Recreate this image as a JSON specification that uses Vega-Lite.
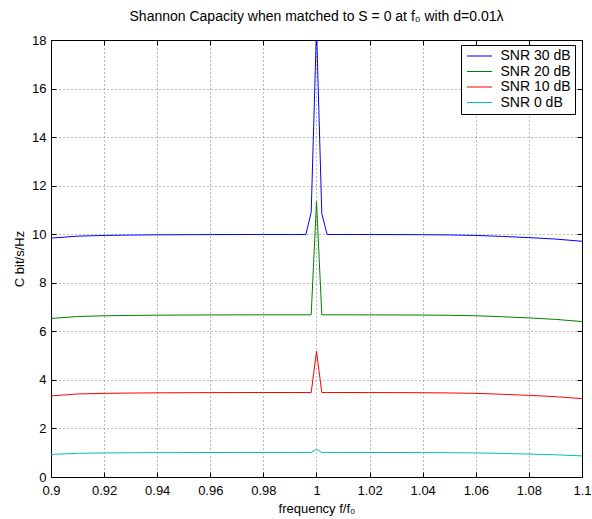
{
  "$schema": "https://vega.github.io/schema/vega-lite/v6.json",
  "width": 531,
  "height": 437,
  "autosize": "none",
  "padding": {"left": 51, "top": 40, "right": 10, "bottom": 42},
  "background": "white",
  "title": {
    "text": "Shannon Capacity when matched to  S = 0 at f₀ with d=0.01λ",
    "font": "Liberation Sans",
    "fontSize": 14,
    "fontWeight": "normal",
    "color": "black",
    "anchor": "middle",
    "baseline": "alphabetic",
    "offset": -1
  },
  "data": {
    "values": [
      {"f": 0.90, "C": 9.84, "s": "SNR 30 dB"},
      {"f": 0.91, "C": 9.92, "s": "SNR 30 dB"},
      {"f": 0.92, "C": 9.95, "s": "SNR 30 dB"},
      {"f": 0.93, "C": 9.965, "s": "SNR 30 dB"},
      {"f": 0.94, "C": 9.975, "s": "SNR 30 dB"},
      {"f": 0.95, "C": 9.98, "s": "SNR 30 dB"},
      {"f": 0.96, "C": 9.985, "s": "SNR 30 dB"},
      {"f": 0.97, "C": 9.987, "s": "SNR 30 dB"},
      {"f": 0.98, "C": 9.99, "s": "SNR 30 dB"},
      {"f": 0.99, "C": 9.99, "s": "SNR 30 dB"},
      {"f": 0.996, "C": 9.99, "s": "SNR 30 dB"},
      {"f": 0.998, "C": 10.9, "s": "SNR 30 dB"},
      {"f": 1.0, "C": 18.5, "s": "SNR 30 dB"},
      {"f": 1.002, "C": 10.85, "s": "SNR 30 dB"},
      {"f": 1.004, "C": 9.99, "s": "SNR 30 dB"},
      {"f": 1.01, "C": 9.99, "s": "SNR 30 dB"},
      {"f": 1.02, "C": 9.987, "s": "SNR 30 dB"},
      {"f": 1.03, "C": 9.985, "s": "SNR 30 dB"},
      {"f": 1.04, "C": 9.98, "s": "SNR 30 dB"},
      {"f": 1.05, "C": 9.97, "s": "SNR 30 dB"},
      {"f": 1.06, "C": 9.95, "s": "SNR 30 dB"},
      {"f": 1.07, "C": 9.91, "s": "SNR 30 dB"},
      {"f": 1.08, "C": 9.86, "s": "SNR 30 dB"},
      {"f": 1.09, "C": 9.80, "s": "SNR 30 dB"},
      {"f": 1.10, "C": 9.71, "s": "SNR 30 dB"},

      {"f": 0.90, "C": 6.53, "s": "SNR 20 dB"},
      {"f": 0.91, "C": 6.61, "s": "SNR 20 dB"},
      {"f": 0.92, "C": 6.64, "s": "SNR 20 dB"},
      {"f": 0.93, "C": 6.656, "s": "SNR 20 dB"},
      {"f": 0.94, "C": 6.666, "s": "SNR 20 dB"},
      {"f": 0.95, "C": 6.671, "s": "SNR 20 dB"},
      {"f": 0.96, "C": 6.676, "s": "SNR 20 dB"},
      {"f": 0.97, "C": 6.678, "s": "SNR 20 dB"},
      {"f": 0.98, "C": 6.681, "s": "SNR 20 dB"},
      {"f": 0.99, "C": 6.681, "s": "SNR 20 dB"},
      {"f": 0.996, "C": 6.681, "s": "SNR 20 dB"},
      {"f": 0.998, "C": 6.681, "s": "SNR 20 dB"},
      {"f": 1.0, "C": 11.35, "s": "SNR 20 dB"},
      {"f": 1.002, "C": 6.681, "s": "SNR 20 dB"},
      {"f": 1.004, "C": 6.681, "s": "SNR 20 dB"},
      {"f": 1.01, "C": 6.681, "s": "SNR 20 dB"},
      {"f": 1.02, "C": 6.678, "s": "SNR 20 dB"},
      {"f": 1.03, "C": 6.676, "s": "SNR 20 dB"},
      {"f": 1.04, "C": 6.671, "s": "SNR 20 dB"},
      {"f": 1.05, "C": 6.661, "s": "SNR 20 dB"},
      {"f": 1.06, "C": 6.642, "s": "SNR 20 dB"},
      {"f": 1.07, "C": 6.601, "s": "SNR 20 dB"},
      {"f": 1.08, "C": 6.552, "s": "SNR 20 dB"},
      {"f": 1.09, "C": 6.493, "s": "SNR 20 dB"},
      {"f": 1.10, "C": 6.403, "s": "SNR 20 dB"},

      {"f": 0.90, "C": 3.34, "s": "SNR 10 dB"},
      {"f": 0.91, "C": 3.42, "s": "SNR 10 dB"},
      {"f": 0.92, "C": 3.445, "s": "SNR 10 dB"},
      {"f": 0.93, "C": 3.458, "s": "SNR 10 dB"},
      {"f": 0.94, "C": 3.467, "s": "SNR 10 dB"},
      {"f": 0.95, "C": 3.471, "s": "SNR 10 dB"},
      {"f": 0.96, "C": 3.476, "s": "SNR 10 dB"},
      {"f": 0.97, "C": 3.478, "s": "SNR 10 dB"},
      {"f": 0.98, "C": 3.48, "s": "SNR 10 dB"},
      {"f": 0.99, "C": 3.48, "s": "SNR 10 dB"},
      {"f": 0.996, "C": 3.48, "s": "SNR 10 dB"},
      {"f": 0.998, "C": 3.48, "s": "SNR 10 dB"},
      {"f": 1.0, "C": 5.18, "s": "SNR 10 dB"},
      {"f": 1.002, "C": 3.48, "s": "SNR 10 dB"},
      {"f": 1.004, "C": 3.48, "s": "SNR 10 dB"},
      {"f": 1.01, "C": 3.48, "s": "SNR 10 dB"},
      {"f": 1.02, "C": 3.478, "s": "SNR 10 dB"},
      {"f": 1.03, "C": 3.476, "s": "SNR 10 dB"},
      {"f": 1.04, "C": 3.471, "s": "SNR 10 dB"},
      {"f": 1.05, "C": 3.462, "s": "SNR 10 dB"},
      {"f": 1.06, "C": 3.445, "s": "SNR 10 dB"},
      {"f": 1.07, "C": 3.407, "s": "SNR 10 dB"},
      {"f": 1.08, "C": 3.363, "s": "SNR 10 dB"},
      {"f": 1.09, "C": 3.309, "s": "SNR 10 dB"},
      {"f": 1.10, "C": 3.227, "s": "SNR 10 dB"},

      {"f": 0.90, "C": 0.93, "s": "SNR 0 dB"},
      {"f": 0.91, "C": 0.975, "s": "SNR 0 dB"},
      {"f": 0.92, "C": 0.99, "s": "SNR 0 dB"},
      {"f": 0.93, "C": 0.999, "s": "SNR 0 dB"},
      {"f": 0.94, "C": 1.004, "s": "SNR 0 dB"},
      {"f": 0.95, "C": 1.006, "s": "SNR 0 dB"},
      {"f": 0.96, "C": 1.009, "s": "SNR 0 dB"},
      {"f": 0.97, "C": 1.01, "s": "SNR 0 dB"},
      {"f": 0.98, "C": 1.011, "s": "SNR 0 dB"},
      {"f": 0.99, "C": 1.011, "s": "SNR 0 dB"},
      {"f": 0.996, "C": 1.011, "s": "SNR 0 dB"},
      {"f": 0.998, "C": 1.011, "s": "SNR 0 dB"},
      {"f": 1.0, "C": 1.14, "s": "SNR 0 dB"},
      {"f": 1.002, "C": 1.011, "s": "SNR 0 dB"},
      {"f": 1.004, "C": 1.011, "s": "SNR 0 dB"},
      {"f": 1.01, "C": 1.011, "s": "SNR 0 dB"},
      {"f": 1.02, "C": 1.01, "s": "SNR 0 dB"},
      {"f": 1.03, "C": 1.009, "s": "SNR 0 dB"},
      {"f": 1.04, "C": 1.006, "s": "SNR 0 dB"},
      {"f": 1.05, "C": 1.002, "s": "SNR 0 dB"},
      {"f": 1.06, "C": 0.992, "s": "SNR 0 dB"},
      {"f": 1.07, "C": 0.972, "s": "SNR 0 dB"},
      {"f": 1.08, "C": 0.945, "s": "SNR 0 dB"},
      {"f": 1.09, "C": 0.915, "s": "SNR 0 dB"},
      {"f": 1.10, "C": 0.87, "s": "SNR 0 dB"}
    ]
  },
  "layer": [
    {
      "mark": {"type": "line", "clip": true, "strokeWidth": 1},
      "encoding": {
        "x": {
          "field": "f", "type": "quantitative",
          "scale": {"domain": [0.9, 1.1], "nice": false, "zero": false},
          "axis": {
            "title": "frequency f/f₀",
            "values": [0.9, 0.92, 0.94, 0.96, 0.98, 1.0, 1.02, 1.04, 1.06, 1.08, 1.1],
            "format": "~g",
            "grid": true,
            "tickSize": -5,
            "labelPadding": 12,
            "labelFlush": false,
            "titlePadding": 5
          }
        },
        "y": {
          "field": "C", "type": "quantitative",
          "scale": {"domain": [0, 18], "nice": false},
          "axis": {
            "title": "C bit/s/Hz",
            "values": [0, 2, 4, 6, 8, 10, 12, 14, 16, 18],
            "grid": true,
            "tickSize": -5,
            "labelPadding": 10,
            "labelFlush": false,
            "titlePadding": 5
          }
        },
        "color": {
          "field": "s", "type": "nominal",
          "scale": {
            "domain": ["SNR 30 dB", "SNR 20 dB", "SNR 10 dB", "SNR 0 dB"],
            "range": ["#0000ff", "#008000", "#ff0000", "#00bfbf"]
          },
          "legend": {
            "title": null,
            "orient": "none",
            "legendX": 410,
            "legendY": 5,
            "symbolType": "M-2.5,0H2.5",
            "symbolSize": 100,
            "symbolStrokeWidth": 1,
            "symbolOffset": 7.5,
            "labelFont": "Liberation Sans",
            "labelFontSize": 14,
            "labelColor": "black",
            "labelOffset": 14,
            "strokeColor": "black",
            "fillColor": "white",
            "padding": 4,
            "rowPadding": 1.5,
            "labelLimit": 200
          }
        }
      }
    },
    {
      "mark": {"type": "line", "strokeOpacity": 0, "clip": true},
      "encoding": {
        "x": {
          "field": "f", "type": "quantitative",
          "axis": {
            "orient": "top", "title": null, "labels": false, "grid": false,
            "values": [0.9, 0.92, 0.94, 0.96, 0.98, 1.0, 1.02, 1.04, 1.06, 1.08, 1.1],
            "tickSize": -5
          }
        },
        "y": {
          "field": "C", "type": "quantitative",
          "axis": {
            "orient": "right", "title": null, "labels": false, "grid": false,
            "values": [0, 2, 4, 6, 8, 10, 12, 14, 16, 18],
            "tickSize": -5
          }
        },
        "detail": {"field": "s"}
      }
    }
  ],
  "resolve": {"axis": {"x": "independent", "y": "independent"}},
  "config": {
    "view": {"stroke": "black", "strokeWidth": 1},
    "axis": {
      "domainColor": "black",
      "tickColor": "black",
      "labelColor": "black",
      "titleColor": "black",
      "labelFont": "Liberation Sans",
      "titleFont": "Liberation Sans",
      "labelFontSize": 13,
      "titleFontSize": 13,
      "titleFontWeight": "normal",
      "gridColor": "#777777",
      "gridDash": [1, 3],
      "gridWidth": 1,
      "gridOpacity": 1
    }
  }
}
